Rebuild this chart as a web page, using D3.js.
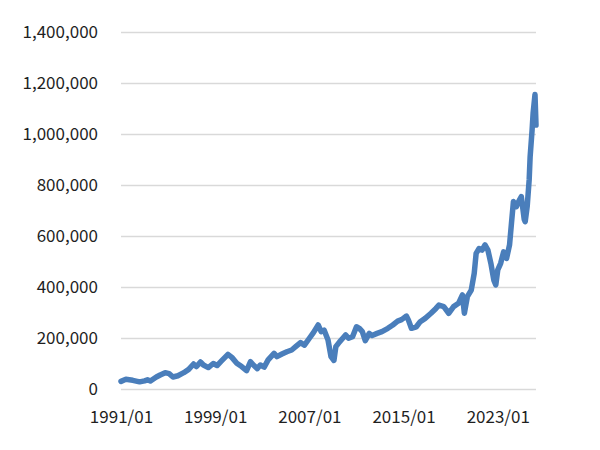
<!DOCTYPE html>
<html>
<head>
<meta charset="utf-8">
<script src="https://cdn.jsdelivr.net/npm/d3@7"></script>
<style>
  body { margin: 0; background: #fff; }
  svg text { font-family: "Noto Sans CJK KR", "Noto Sans", sans-serif; fill: #1f1f1f; }
</style>
</head>
<body>
<svg id="chart" width="600" height="450"></svg>
<script>
const months = [
  '1991/01', '1991/06', '1992/01', '1992/08', '1993/01', '1993/04', '1993/07', '1994/01',
  '1994/05', '1994/10', '1995/02', '1995/06', '1995/11', '1996/05', '1996/10', '1997/03',
  '1997/06', '1997/10', '1998/01', '1998/06', '1998/11', '1999/03', '1999/07', '2000/02',
  '2000/06', '2000/11', '2001/04', '2001/09', '2002/01', '2002/04', '2002/08', '2002/11',
  '2003/03', '2003/07', '2004/01', '2004/04', '2004/09', '2005/02', '2005/07', '2005/11',
  '2006/04', '2006/08', '2007/01', '2007/05', '2007/10', '2008/01', '2008/04', '2008/08',
  '2008/11', '2009/02', '2009/04', '2009/08', '2009/11', '2010/02', '2010/05', '2010/09',
  '2011/01', '2011/04', '2011/07', '2011/10', '2012/02', '2012/05', '2012/10', '2013/03',
  '2013/09', '2014/02', '2014/07', '2014/11', '2015/04', '2015/06', '2015/09', '2016/02',
  '2016/06', '2016/11', '2017/05', '2017/10', '2018/01', '2018/06', '2018/11', '2019/04',
  '2019/09', '2020/01', '2020/03', '2020/06', '2020/10', '2021/01', '2021/03', '2021/06',
  '2021/09', '2021/12', '2022/03', '2022/06', '2022/09', '2022/11', '2023/01', '2023/04',
  '2023/07', '2023/10', '2024/01', '2024/03', '2024/05', '2024/08', '2024/11', '2025/01',
  '2025/04', '2025/05', '2025/07', '2025/09', '2025/10', '2025/12', '2026/01', '2026/03',
  '2026/04'
];

const values = [
  30000, 38000, 34000, 28000, 32000, 36000, 31000, 47000,
  55000, 64000, 60000, 47000, 52000, 64000, 77000, 98000,
  88000, 106000, 94000, 84000, 100000, 92000, 108000, 136000,
  124000, 101000, 88000, 72000, 107000, 94000, 80000, 94000,
  86000, 114000, 140000, 127000, 137000, 146000, 153000, 166000,
  182000, 172000, 199000, 220000, 251000, 225000, 231000, 192000,
  127000, 112000, 166000, 186000, 199000, 212000, 199000, 205000,
  244000, 238000, 225000, 190000, 218000, 210000, 218000, 225000,
  238000, 251000, 266000, 272000, 286000, 270000, 238000, 244000,
  264000, 277000, 297000, 316000, 329000, 323000, 297000, 323000,
  336000, 369000, 297000, 362000, 388000, 454000, 532000, 551000,
  545000, 565000, 545000, 493000, 427000, 408000, 467000, 493000,
  538000, 512000, 565000, 650000, 735000, 715000, 741000, 754000,
  665000, 656000, 715000, 820000, 911000, 1016000, 1081000, 1155000,
  1035000
];

const xTicks = ['1991/01', '1999/01', '2007/01', '2015/01', '2023/01'];
const yTicks = [0, 200000, 400000, 600000, 800000, 1000000, 1200000, 1400000];

const parseMonth = d3.timeParse('%Y/%m');
const formatMonth = d3.timeFormat('%Y/%m');
const data = months.map((m, i) => ({ date: parseMonth(m), value: values[i] }));

const svg = d3.select('#chart'),
      margin = { top: 32, right: 536, bottom: 389, left: 121 };

const x = d3.scaleTime()
  .domain([parseMonth('1991/01'), parseMonth('2026/04')])
  .range([margin.left, margin.right]);

const y = d3.scaleLinear()
  .domain([0, 1400000])
  .range([margin.bottom, margin.top]);

// gridlines + y labels
const yAxis = svg.append('g')
  .attr('transform', `translate(${margin.left}, 0)`)
  .call(d3.axisLeft(y)
    .tickValues(yTicks)
    .tickSize(-(margin.right - margin.left))
    .tickPadding(23)
    .tickFormat(d3.format(',')));

yAxis.select('.domain').remove();
yAxis.selectAll('.tick line')
  .attr('stroke', '#d9d9d9')
  .attr('stroke-width', 1.3);
yAxis.selectAll('.tick text')
  .attr('font-size', 17);

const xAxis = svg.append('g')
  .attr('transform', `translate(0, ${margin.bottom})`)
  .call(d3.axisBottom(x)
    .tickValues(xTicks.map(parseMonth))
    .tickSize(0)
    .tickPadding(22)
    .tickFormat(formatMonth));

xAxis.select('.domain').remove();
xAxis.selectAll('.tick text')
  .attr('font-size', 17);

const line = d3.line()
  .x((d) => x(d.date))
  .y((d) => y(d.value));

svg.append('path')
  .datum(data)
  .attr('fill', 'none')
  .attr('stroke', '#4a7ebb')
  .attr('stroke-width', 5.5)
  .attr('stroke-linejoin', 'round')
  .attr('stroke-linecap', 'round')
  .attr('d', line);
</script>
</body>
</html>
